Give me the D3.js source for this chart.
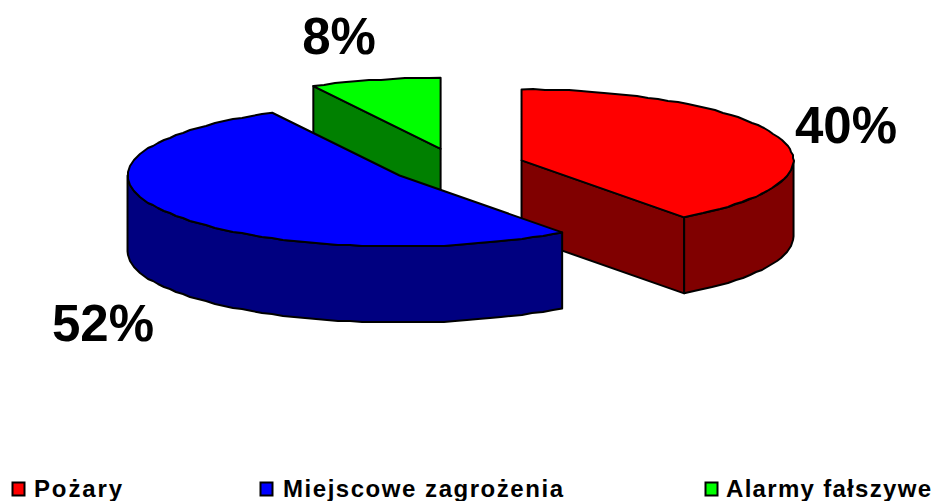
<!DOCTYPE html>
<html><head><meta charset="utf-8">
<script src="https://cdn.jsdelivr.net/npm/d3@7"></script>
<style>html,body{margin:0;background:#fff}svg{display:block}text{font-family:"Liberation Sans",Arial,sans-serif;font-weight:bold;fill:#000}</style>
</head><body><svg id="c" width="936" height="501"></svg>
<script>
const categories = ["Pożary", "Miejscowe zagrożenia", "Alarmy fałszywe"];
const values = [39.8, 52.45, 7.75];
const labels = ["40%", "52%", "8%"];
const topColors = ["#ff0000", "#0000ff", "#00ff00"];
const wallColors = ["#800000", "#000080", "#008000"];

const rx = 272, ry = 71, depth = 76, explode = 0.25, cx = 457, cy = 166;
const svg = d3.select("#c");
const arcs = d3.pie().sort(null).value(d => d)(values);
const scaleX = d3.scaleLinear().domain([-1, 1]).range([-rx, rx]);
const scaleY = d3.scaleLinear().domain([-1, 1]).range([-ry, ry]);
const line = d3.line();

function pt(apex, a, dz = 0) {
  return [apex[0] + scaleX(Math.sin(a)), apex[1] - scaleY(Math.cos(a)) + dz];
}
// the reference's rim is a fine polyline snapped to whole pixels
function rim(apex, a0, a1, dz = 0) {
  const n = Math.max(2, Math.round((a1 - a0) / (Math.PI / 72)));
  return d3.range(n + 1).map(i => {
    const p = pt(apex, a0 + (a1 - a0) * i / n, dz);
    return (i === 0 || i === n) ? p : [Math.round(p[0]), Math.round(p[1])];
  });
}
const style = (s, fill) => s.attr("fill", fill).attr("stroke", "#000").attr("stroke-width", 2).attr("stroke-linejoin", "round");

// back to front: green, red, blue
[2, 0, 1].forEach(i => {
  const d = arcs[i], mid = (d.startAngle + d.endAngle) / 2;
  const apex = [cx + scaleX(explode * Math.sin(mid)), cy - scaleY(explode * Math.cos(mid))];
  const g = svg.append("g");
  if (i === 0) {
    const a = pt(apex, d.endAngle);
    style(g.append("path").attr("d", line([apex, a, [a[0], a[1] + depth], [apex[0], apex[1] + depth]]) + "Z"), wallColors[i]);
    const top = rim(apex, Math.PI / 2, d.endAngle);
    const bot = rim(apex, Math.PI / 2, d.endAngle, depth).reverse();
    style(g.append("path").attr("d", line(top.concat(bot)) + "Z"), wallColors[i]);
  } else if (i === 1) {
    const top = rim(apex, d.startAngle, 3 * Math.PI / 2);
    const bot = rim(apex, d.startAngle, 3 * Math.PI / 2, depth).reverse();
    style(g.append("path").attr("d", line(top.concat(bot)) + "Z"), wallColors[i]);
  } else {
    const a = pt(apex, d.startAngle);
    style(g.append("path").attr("d", line([apex, a, [a[0], a[1] + depth], [apex[0], apex[1] + depth]]) + "Z"), wallColors[i]);
  }
  style(g.append("path").attr("d", line([apex].concat(rim(apex, d.startAngle, d.endAngle))) + "Z"), topColors[i]);
});

// data labels
const labelPos = [[846, 143], [103, 341], [339, 54]];
labels.forEach((t, i) => svg.append("text").attr("x", labelPos[i][0]).attr("y", labelPos[i][1])
  .attr("text-anchor", "middle").attr("font-size", 51).text(t));

// legend
const legendX = [12, 260, 705];
const legendTextX = [34, 283, 726];
const legendTextW = [88, 280, 205];
categories.forEach((t, i) => {
  svg.append("rect").attr("x", legendX[i] + .5).attr("y", 482.5).attr("width", 12).attr("height", 13)
    .attr("fill", topColors[i]).attr("stroke", "#000").attr("stroke-width", 2);
  svg.append("text").attr("x", legendTextX[i]).attr("y", 497).attr("font-size", 24)
    .attr("textLength", legendTextW[i]).attr("lengthAdjust", "spacing").text(t);
});
</script></body></html>
